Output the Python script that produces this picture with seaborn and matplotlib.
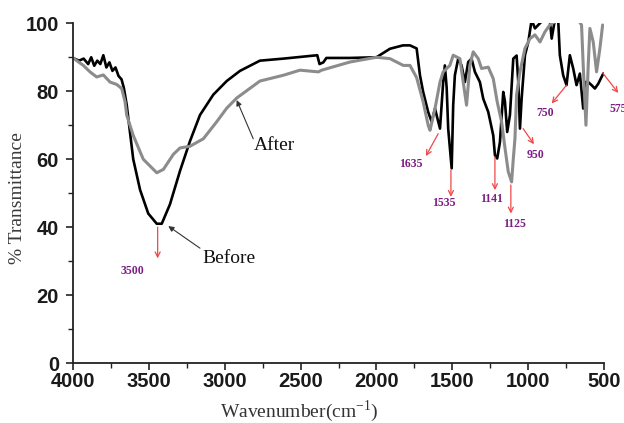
import numpy as np
import pandas as pd
import matplotlib
matplotlib.use("Agg")
import matplotlib.pyplot as plt
import seaborn as sns

# ---------------- data ----------------
before_wn = [4000, 3960, 3930, 3900, 3880, 3860, 3840, 3820, 3800, 3780, 3760, 3740,
             3720, 3700, 3680, 3665, 3646, 3630, 3603, 3558, 3504, 3448, 3415, 3361,
             3295, 3229, 3163, 3075, 2987, 2899, 2768, 2614, 2390, 2375, 2350, 2330,
             2175, 2000, 1911, 1825, 1779, 1735, 1713, 1692, 1659, 1636, 1614, 1598,
             1581, 1560, 1549, 1537, 1527, 1504, 1494, 1483, 1461, 1439, 1417, 1395,
             1373, 1351, 1318, 1296, 1263, 1230, 1219, 1204, 1186, 1164, 1153, 1138,
             1120, 1098, 1076, 1065, 1054, 1043, 1021, 999, 977, 955, 901, 857, 845,
             824, 802, 791, 769, 747, 725, 703, 681, 659, 637, 626, 604, 582, 560,
             538, 505]
before_t = [89.8, 89.0, 89.6, 88.0, 90.0, 87.5, 89.0, 88.0, 90.6, 87.0, 88.5, 86.0,
            87.0, 84.5, 83.5, 81.0, 76.0, 70.0, 60.0, 51.0, 44.0, 41.0, 41.0, 46.7,
            56.5, 65.3, 73.0, 79.0, 83.0, 86.0, 89.0, 89.6, 90.6, 88.0, 88.5, 89.8,
            89.8, 90.0, 92.5, 93.5, 93.5, 92.6, 84.7, 79.8, 73.9, 71.0, 74.9, 72.0,
            69.0, 82.7, 87.6, 81.0, 69.0, 57.3, 75.9, 84.7, 89.6, 87.6, 82.7, 88.6,
            89.6, 85.7, 82.7, 77.8, 73.9, 67.0, 61.2, 60.2, 65.0, 79.8, 77.0, 68.0,
            73.0, 89.6, 90.5, 82.7, 69.0, 77.8, 90.6, 94.5, 101.0, 98.5, 101.0, 101.0, 95.5,
            101.0, 101.0, 90.6, 84.7, 81.8, 90.6, 86.7, 81.8, 85.2, 74.9, 82.7, 82.7, 81.8, 80.8,
            82.2, 85.2]

after_wn = [4000, 3932, 3888, 3844, 3800, 3756, 3712, 3679, 3657, 3646, 3603, 3537,
            3448, 3404, 3339, 3295, 3229, 3141, 3053, 2987, 2921, 2768, 2614, 2504,
            2383, 2361, 2175, 2000, 1911, 1823, 1779, 1735, 1692, 1659, 1647, 1614,
            1581, 1560, 1516, 1494, 1450, 1428, 1406, 1384, 1362, 1329, 1307, 1263,
            1230, 1204, 1175, 1153, 1131, 1109, 1098, 1087, 1076, 1054, 1021, 988,
            955, 922, 889, 857, 824, 800, 700, 648, 637, 619, 604, 593, 571, 549,
            527, 509]
after_t = [89.8, 87.6, 85.7, 84.2, 84.8, 82.7, 82.0, 80.8, 76.9, 73.0, 67.0, 60.0,
           56.0, 57.0, 61.4, 63.3, 63.8, 66.0, 71.0, 75.0, 78.0, 83.0, 84.7, 86.2,
           85.7, 86.2, 88.6, 90.0, 89.6, 87.6, 87.6, 84.0, 76.9, 70.0, 68.5, 74.9,
           82.7, 85.7, 87.6, 90.6, 89.6, 82.7, 75.9, 87.6, 91.6, 89.6, 86.7, 87.1,
           83.7, 76.9, 71.0, 63.4, 56.3, 53.3, 60.0, 66.0, 79.0, 85.7, 92.6, 95.5,
           96.6, 94.5, 97.5, 99.5, 100.5, 103.0, 103.0, 99.5, 87.6, 70.0, 87.6, 98.5,
           94.5, 85.7, 92.6, 99.5]

peak_labels = ["3500", "1635", "1535", "1141", "1125", "950", "750", "575"]
# arrow tail (on the curve), arrow head, label position
peak_tail = [(3442, 40.0), (1593, 67.5), (1509, 56.8), (1219, 60.7),
             (1114, 52.4), (1033, 69.0), (747, 81.8), (509, 85.4)]
peak_head = [(3442, 30.8), (1674, 60.9), (1509, 48.9), (1219, 50.9),
             (1114, 44.0), (962, 64.4), (845, 76.4), (406, 79.5)]
peak_text = [(3605, 27.0), (1774, 58.7), (1555, 47.1), (1239, 48.2),
             (1087, 40.9), (949, 61.2), (889, 73.6), (461, 74.9)]

series_names = ["Before", "After"]
series_text = [(2975, 30.9), (2675, 64.0)]
series_tail = [(3163, 33.8), (2812, 66.0)]
series_point = [(3372, 40.3), (2921, 77.4)]

# ---------------- figure ----------------
sns.set_theme(style="white")
plt.rcParams["font.family"] = ["Liberation Sans", "DejaVu Sans"]

fig = plt.figure(figsize=(6.24, 4.23), dpi=100)
ax = fig.add_axes([73 / 624, 60 / 423, 531 / 624, 339.7 / 423])

df = pd.concat([
    pd.DataFrame({"wn": before_wn, "T": before_t, "sample": "Before"}),
    pd.DataFrame({"wn": after_wn, "T": after_t, "sample": "After"}),
], ignore_index=True)

sns.lineplot(data=df, x="wn", y="T", hue="sample",
             palette={"Before": "#000000", "After": "#8c8c8c"},
             hue_order=["Before", "After"], estimator=None, sort=False,
             legend=False, ax=ax)
lines = ax.get_lines()
lines[0].set_linewidth(1.9)
lines[1].set_linewidth(2.2)

ax.set_xlim(4000, 500)
ax.set_ylim(0, 100)
ax.set_xticks(np.arange(4000, 499, -500))
ax.set_xticks(np.arange(3750, 500, -500), minor=True)
ax.set_yticks(np.arange(0, 101, 20))
ax.set_yticks(np.arange(10, 100, 20), minor=True)

for s in ["top", "right"]:
    ax.spines[s].set_visible(False)
for s in ["left", "bottom"]:
    ax.spines[s].set_linewidth(1.3)
    ax.spines[s].set_color("#222222")

ax.tick_params(axis="both", which="major", direction="out", length=5, width=1.2,
               color="#222222", labelsize=14.5, labelcolor="#1a1a1a",
               bottom=True, left=True)
ax.tick_params(axis="both", which="minor", direction="out", length=3.5, width=1.0,
               color="#222222", bottom=True, left=True)
ax.tick_params(axis="x", which="major", pad=1.5)
ax.tick_params(axis="y", which="major", pad=5)
for lab in ax.get_xticklabels() + ax.get_yticklabels():
    lab.set_fontweight("bold")

ax.set_xlabel("Wavenumber(cm$^{\\mathregular{-1}}$)", family="Liberation Serif",
              fontsize=14, color="#333333")
ax.set_ylabel("% Transmittance", family="Liberation Serif", fontsize=14,
              color="#3a3a3a")
ax.xaxis.set_label_coords(0.426, -0.105)
ax.yaxis.set_label_coords(-0.088, 0.486)

# peak annotations
for lab, tail, head, txt in zip(peak_labels, peak_tail, peak_head, peak_text):
    ax.annotate("", xy=head, xytext=tail,
                arrowprops=dict(arrowstyle="->", color="#f04848", lw=0.9,
                                mutation_scale=9, shrinkA=0, shrinkB=0),
                annotation_clip=False)
    ha = "left" if lab == "575" else "center"
    ax.text(txt[0], txt[1], lab, ha=ha, va="center", fontsize=8.5,
            fontweight="bold", family="Liberation Serif", color="#7b1f82",
            clip_on=False)

# series annotations
for name, txt, tail, pt in zip(series_names, series_text, series_tail, series_point):
    ax.annotate("", xy=pt, xytext=tail,
                arrowprops=dict(arrowstyle="-|>", color="#333333", lw=0.8,
                                mutation_scale=8, shrinkA=0, shrinkB=0))
    ax.text(txt[0], txt[1], name, ha="center", va="center", fontsize=14,
            family="Liberation Serif", color="#111111")

fig.savefig("out.png", dpi=100)
